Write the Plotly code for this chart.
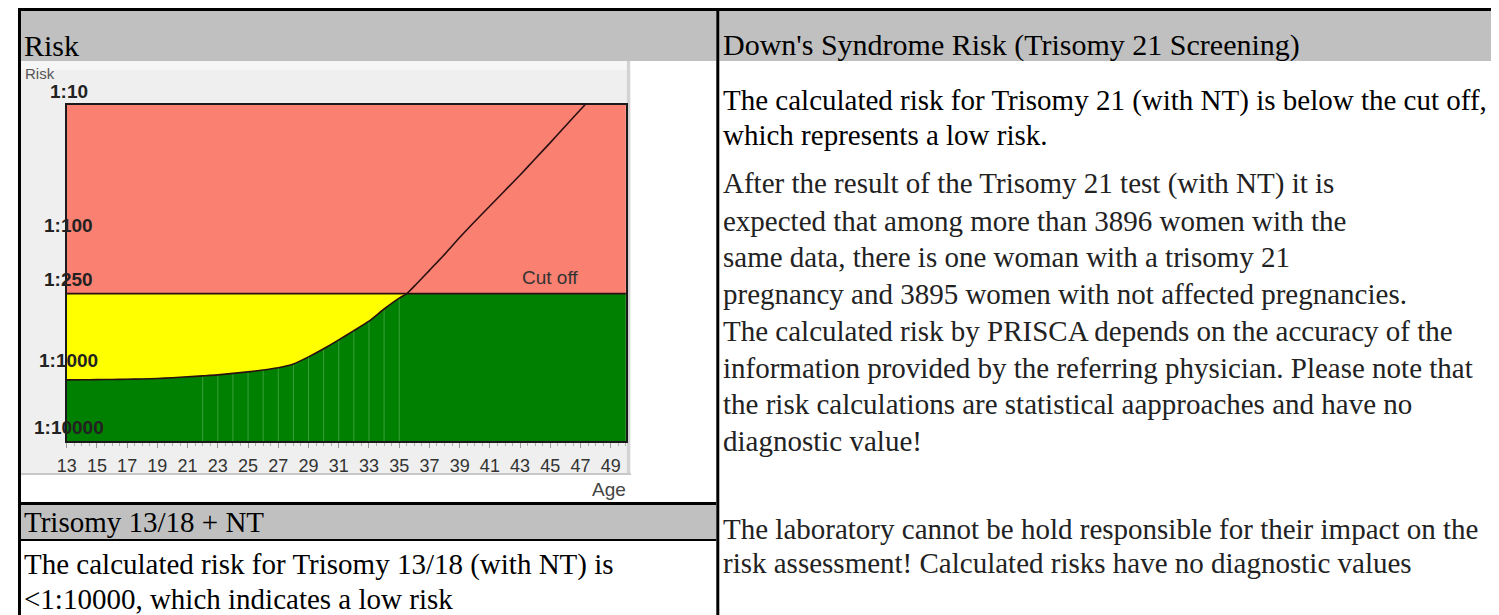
import math
import plotly.graph_objects as go

W, H = 1499, 615

# ---------------- data ----------------
ages = [13, 14, 15, 16, 17, 18, 19, 20, 21, 22, 23, 24, 25, 26, 27, 28, 29, 30,
        31, 32, 33, 34, 35, 35.5, 36, 37, 38, 39, 40, 41, 42, 43, 44, 45, 46, 47, 48]
risk_denominators = [1190, 1185, 1180, 1172, 1163, 1152, 1135, 1105, 1070, 1035, 1000,
                     975, 950, 920, 885, 830, 735, 640, 550, 470, 400, 325, 270, 250,
                     220, 168, 128, 96, 73, 56, 43, 33, 25, 19, 14.3, 10.8, 8.2]
cutoff_risk = 250
axis_top_risk = 10
axis_bottom_risk = 10000
y_tick_risks = [10, 100, 250, 1000, 10000]
y_tick_labels = ["1:10", "1:100", "1:250", "1:1000", "1:10000"]
x_tick_ages = list(range(13, 50, 2))
age_min, age_max = 13, 50
patient_age = 24.6
patient_risk = 3896
gap_ages = list(range(22, 36))

header_left = "Risk"
header_right = "Down's Syndrome Risk (Trisomy 21 Screening)"
result_lines = ["The calculated risk for Trisomy 21 (with NT) is below the cut off,",
                "which represents a low risk."]
para_lines = ["After the result of the Trisomy 21 test (with NT) it is",
              "expected that among more than 3896 women with the",
              "same data, there is one woman with a trisomy 21",
              "pregnancy and 3895 women with not affected pregnancies.",
              "The calculated risk by PRISCA depends on the accuracy of the",
              "information provided by the referring physician. Please note that",
              "the risk calculations are statistical aapproaches and have no",
              "diagnostic value!"]
footer_lines = ["The laboratory cannot be hold responsible for their impact on the",
                "risk assessment! Calculated risks have no diagnostic values"]
t1318_header = "Trisomy 13/18 + NT"
t1318_lines = ["The calculated risk for Trisomy 13/18 (with NT) is",
               "<1:10000, which indicates a low risk"]


# piecewise risk scale of the chart (log above 1:1000, compressed below)
def pos(n):
    L = math.log10(n)
    return L if L <= 3 else 3 + 0.49 * (L - 3)


curve_pos = [pos(v) for v in risk_denominators]
cut_pos = pos(cutoff_risk)
top_pos = pos(axis_top_risk)
bot_pos = pos(axis_bottom_risk)
risk_by_age = dict(zip(ages, risk_denominators))

# boundary between green and yellow/red
bx = [a for a in ages if a <= 35.5] + [age_max]
by = [max(pos(risk_by_age[a]), cut_pos) for a in ages if a <= 35.5] + [cut_pos]

fig = go.Figure()
# red zone (1:10 .. cutoff)
fig.add_trace(go.Scatter(x=[age_min, age_max], y=[top_pos, top_pos], mode="lines",
                         line=dict(width=0), hoverinfo="skip", showlegend=False))
fig.add_trace(go.Scatter(x=[age_min, age_max], y=[cut_pos, cut_pos], mode="lines",
                         line=dict(width=0), fill="tonexty", fillcolor="#fa8072",
                         hoverinfo="skip", showlegend=False))
# yellow zone (cutoff .. curve)
fig.add_trace(go.Scatter(x=bx, y=by, mode="lines", line=dict(width=0),
                         fill="tonexty", fillcolor="#ffff00",
                         hoverinfo="skip", showlegend=False))
# green zone (bottom .. boundary)
fig.add_trace(go.Scatter(x=[age_min, age_max], y=[bot_pos, bot_pos], mode="lines",
                         line=dict(width=0), hoverinfo="skip", showlegend=False))
fig.add_trace(go.Scatter(x=bx, y=by, mode="lines", line=dict(width=0),
                         fill="tonexty", fillcolor="#008000",
                         hoverinfo="skip", showlegend=False))
# faint vertical lines inside green
gx, gy = [], []
for a in gap_ages:
    gx += [a, a, None]
    gy += [bot_pos, pos(risk_by_age[a]), None]
fig.add_trace(go.Scatter(x=gx, y=gy, mode="lines",
                         line=dict(color="rgba(130,200,130,0.45)", width=1),
                         hoverinfo="skip", showlegend=False))
# patient bar
fig.add_trace(go.Bar(x=[patient_age], y=[pos(patient_risk) - bot_pos], base=[bot_pos],
                     width=0.85, marker=dict(color="#000000", line=dict(width=0)),
                     hoverinfo="skip", showlegend=False))
# cutoff line
fig.add_trace(go.Scatter(x=[age_min, age_max], y=[cut_pos, cut_pos], mode="lines",
                         line=dict(color="#2a1010", width=1.6),
                         hoverinfo="skip", showlegend=False))
# risk curve
fig.add_trace(go.Scatter(x=ages, y=curve_pos, mode="lines",
                         line=dict(color="#2a1010", width=1.6, shape="spline", smoothing=0.6),
                         hoverinfo="skip", showlegend=False))


def px(x):
    return x / W


def py(y):
    return 1 - y / H


shapes = []


def rect(x0, y0, x1, y1, fill, layer="below"):
    shapes.append(dict(type="rect", xref="paper", yref="paper", x0=px(x0), x1=px(x1),
                       y0=py(y1), y1=py(y0), fillcolor=fill, line=dict(width=0),
                       layer=layer))


def line(x0, y0, x1, y1, color, width, layer="above"):
    shapes.append(dict(type="line", xref="paper", yref="paper", x0=px(x0), x1=px(x1),
                       y0=py(y0), y1=py(y1), line=dict(color=color, width=width),
                       layer=layer))


# header bands
rect(3, 3, 703, 53, "#c0c0c0")
rect(706, 3, 1493, 53, "#c0c0c0")
# chart frame
rect(3, 53, 617, 467, "#efefef")
rect(3, 53, 617, 62, "#f6f6f6")
line(614.5, 53, 614.5, 467, "#d2d2d2", 3, layer="below")
line(3, 466, 617, 466, "#c8c8c8", 2, layer="below")
# trisomy 13/18 band
rect(3, 497, 703, 531, "#c0c0c0")
line(3, 495.5, 703, 495.5, "#000000", 3)
line(3, 532, 703, 532, "#000000", 2)
# table borders
line(0, 1.5, W, 1.5, "#000000", 3)
line(1.5, 0, 1.5, H, "#000000", 3)
line(704.5, 0, 704.5, H, "#000000", 3)
line(1494.5, 0, 1494.5, H, "#000000", 4)

annotations = []


def text(x, y, s, size, color="#000000", family="Liberation Serif", anchor="left",
         xref="paper", yref="paper", yshift=0):
    annotations.append(dict(x=px(x) if xref == "paper" else x,
                            y=py(y) if yref == "paper" else y,
                            xref=xref, yref=yref, text=s, showarrow=False,
                            xanchor=anchor, yanchor="middle", yshift=yshift,
                            font=dict(family=family, size=size, color=color)))


text(4, 37, header_left, 30)
text(708, 37, header_right, 30)
text(708, 92, result_lines[0], 29)
text(708, 127, result_lines[1], 29)
para_y0, para_dy = 176, 36.7
for i, s in enumerate(para_lines):
    text(708, para_y0 + i * para_dy, s, 29, "#222222")
text(708, 521, footer_lines[0], 29, "#222222")
text(708, 555, footer_lines[1], 29, "#222222")
text(4, 514, t1318_header, 29)
text(4, 556, t1318_lines[0], 29)
text(4, 591, t1318_lines[1], 29)

# chart texts
sans = "Liberation Sans"
text(5, 65, "Risk", 15, "#555555", sans)
for r, lab in zip(y_tick_risks, y_tick_labels):
    text(51, pos(r), "<b>" + lab + "</b>", 19, "#222222", sans, anchor="center",
         yref="y", yshift=14)
text(45.0, cut_pos, "Cut off", 19, "#333333", sans, anchor="center", xref="x",
     yref="y", yshift=16)
text(595, 481, "Age", 19, "#444444", sans, anchor="center")

fig.update_layout(
    width=W, height=H, margin=dict(l=0, r=0, t=0, b=0),
    paper_bgcolor="#ffffff", plot_bgcolor="rgba(0,0,0,0)",
    showlegend=False, bargap=0,
    shapes=shapes, annotations=annotations,
    xaxis=dict(domain=[px(49), px(612)], range=[age_min, age_max],
               tickvals=x_tick_ages, ticktext=[str(a) for a in x_tick_ages],
               ticks="outside", ticklen=5, tickwidth=1, tickcolor="#999999",
               minor=dict(dtick=0.5, ticks="outside", ticklen=3, tickcolor="#b0b0b0"),
               tickfont=dict(family=sans, size=18, color="#333333"),
               ticklabelstandoff=2,
               showline=True, linecolor="#1a1a1a", linewidth=2, mirror=True,
               showgrid=False, zeroline=False, fixedrange=True),
    yaxis=dict(domain=[py(433), py(97)], range=[bot_pos, top_pos],
               showticklabels=False, ticks="",
               showline=True, linecolor="#1a1a1a", linewidth=2, mirror=True,
               showgrid=False, zeroline=False, fixedrange=True),
)

fig.write_html("out.html", config={"displayModeBar": False})
